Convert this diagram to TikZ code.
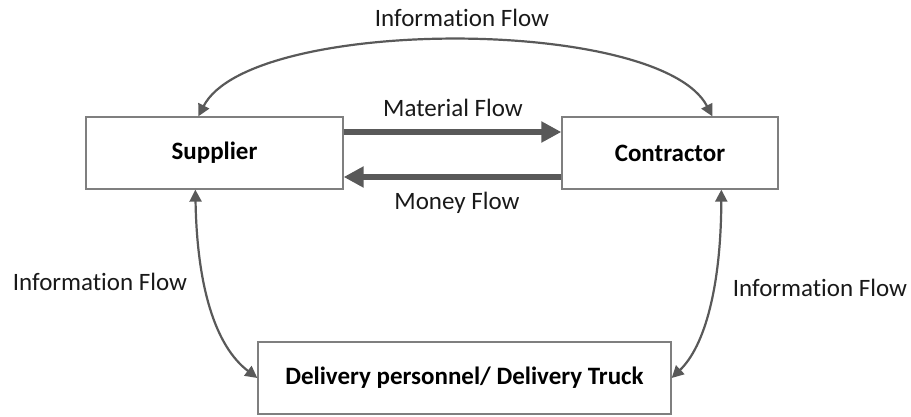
\documentclass[tikz,border=0pt]{standalone}
\usepackage{fontspec}
\setmainfont[RawFeature={-liga;-dlig;-clig}]{Carlito}
\usetikzlibrary{arrows.meta,calc}
\definecolor{boxline}{HTML}{7F7F7F}
\definecolor{arr}{HTML}{595959}
\begin{document}
\begin{tikzpicture}[x=1pt,y=1pt,
  box/.style={draw=boxline,line width=1.3pt,minimum height=72pt,inner sep=0pt,font=\fontsize{25}{30}\selectfont\bfseries},
  lbl/.style={font=\fontsize{25}{30}\selectfont,text=black!90,inner sep=0pt},
  thin/.style={draw=arr,line width=2.2pt,{Triangle[length=12pt,width=12pt]}-{Triangle[length=12pt,width=12pt]}},
  thick/.style={draw=arr,line width=6pt,-{Triangle[length=20pt,width=20pt]}}]
\useasboundingbox (0,0) rectangle (911,416);
\node[box,minimum width=257pt] (sup) at (214.5,263) {Supplier};
\node[box,minimum width=216pt] (con) at (670,263) {Contractor};
\node[box,minimum width=413pt] (del) at (464.5,38) {Delivery personnel/ Delivery Truck};
% thick flows
\draw[thick] ($(sup.east)+(0,21)$) -- ($(con.west)+(0,21)$);
\draw[thick] ($(con.west)+(0,-24)$) -- ($(sup.east)+(0,-24)$);
% information flows
\coordinate (st) at ($(sup.north west)+(113,0)$);
\coordinate (ct) at ($(con.north west)+(151,0)$);
\draw[thin] (st) .. controls (250,400) and (660,400) .. (ct);
\coordinate (sb) at ($(sup.south west)+(110,0)$);
\coordinate (cb) at ($(con.south west)+(160,0)$);
\draw[thin] (sb) .. controls (197,130) and (215,70) .. (del.west);
\draw[thin] (cb) .. controls (721,130) and (705,70) .. (del.east);
% labels
\node[lbl] (l1) at (462,398) {Information Flow};
\node[lbl] (l2) at (453,308) {Material Flow};
\node[lbl] (l3) at (457,213) {Money Flow};
\node[lbl] (l4) at (100,134) {Information Flow};
\node[lbl] (l5) at (820,128) {Information Flow};
\end{tikzpicture}
\end{document}
